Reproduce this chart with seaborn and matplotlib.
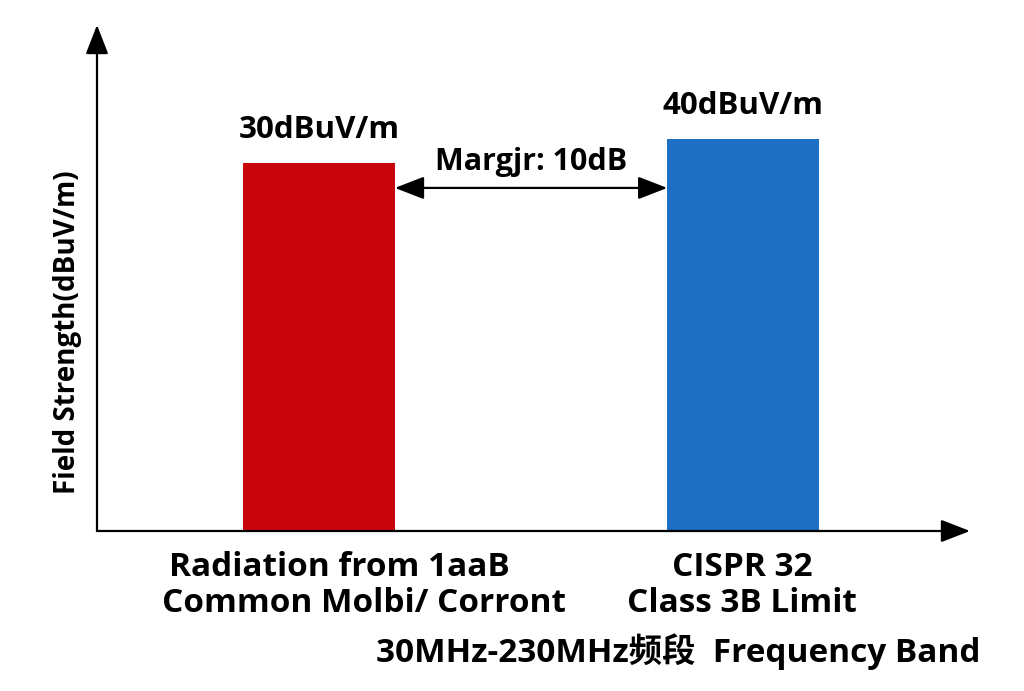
import matplotlib
matplotlib.use("Agg")
import matplotlib.pyplot as plt
import seaborn as sns
import pandas as pd

categories = ["Radiation from 1aaB\nCommon Molbi/ Corront", "CISPR 32\nClass 3B Limit"]
values = [30, 40]
value_labels = ["30dBuV/m", "40dBuV/m"]
bar_colors = ["#C8040C", "#1C6FC2"]
margin_label = "Margjr: 10dB"
xlabel_text = "30MHz-230MHz频段  Frequency Band"
ylabel_text = "Field Strength(dBuV/m)"

sns.set_theme(style="white")
plt.rcParams['font.family'] = ['Open Sans', 'Noto Sans CJK SC', 'DejaVu Sans']

df = pd.DataFrame({"cat": categories, "val": values})

fig = plt.figure(figsize=(10.24, 6.91), dpi=100, facecolor="white")
ax = fig.add_axes([97/1024, 1-531/691, (970-97)/1024, (531-25)/691])

bw = 0.358
sns.barplot(data=df, x="cat", y="val", hue="cat", palette=bar_colors,
            width=bw, legend=False, ax=ax, saturation=1, edgecolor="none")

y0, y1 = -123.3, 87.5
ax.set_xlim(-0.5236, 1.535)
ax.set_ylim(y0, y1)
# extend bars down to the axis baseline
for p in ax.patches:
    h = p.get_height()
    p.set_y(y0)
    p.set_height(h - y0)

for s in ax.spines.values():
    s.set_visible(False)
ax.set_xticks([])
ax.set_yticks([])
ax.set_xlabel("")
ax.set_ylabel("")
ax.patch.set_alpha(0)

# axis arrows
ax.annotate("", xy=(0, 1), xytext=(0, 0), xycoords="axes fraction",
            arrowprops=dict(arrowstyle="-|>,head_length=0.9,head_width=0.35",
                            color="black", lw=1.6, mutation_scale=20, shrinkA=0, shrinkB=0))
ax.annotate("", xy=(1, 0), xytext=(0, 0), xycoords="axes fraction",
            arrowprops=dict(arrowstyle="-|>,head_length=0.9,head_width=0.35",
                            color="black", lw=1.6, mutation_scale=20, shrinkA=0, shrinkB=0))

# value labels
for i, (v, lab) in enumerate(zip(values, value_labels)):
    ax.annotate(lab, xy=(i, v), xytext=(0, 24), textcoords="offset points",
                ha="center", va="center", fontsize=22.5, fontweight="bold", color="black")

# margin arrow
ay = 0.678
ax.annotate("", xy=(1 - bw/2, ay), xytext=(bw/2, ay),
            xycoords=("data", "axes fraction"),
            arrowprops=dict(arrowstyle="<|-|>,head_length=0.9,head_width=0.35",
                            color="black", lw=1.6, mutation_scale=20, shrinkA=0, shrinkB=0))
ax.text(0.5, 0.729, margin_label, transform=ax.get_xaxis_transform(),
        ha="center", va="center", fontsize=22, fontweight="bold", color="black")

# category labels
lines0 = categories[0].split("\n")
lines1 = categories[1].split("\n")
kw = dict(ha="center", va="center", fontsize=24, fontweight="bold", color="black")
fig.text(339/1024, 1-567/691, lines0[0], **kw)
fig.text(364/1024, 1-604/691, lines0[1], **kw)
fig.text(742/1024, 1-567/691, lines1[0], **kw)
fig.text(742/1024, 1-604/691, lines1[1], **kw)
fig.text(678/1024, 1-652/691, xlabel_text, **kw)

fig.text(68/1024, 1-332/691, ylabel_text, ha="center", va="center", rotation=90,
         fontsize=20, fontweight="bold", color="black")

fig.savefig("out.png", dpi=100, facecolor="white")
